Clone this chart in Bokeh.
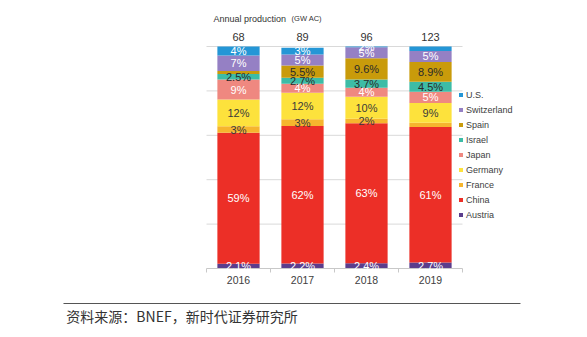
from bokeh.plotting import figure
from bokeh.models import ColumnDataSource, LabelSet, Label, Legend, LegendItem, Range1d
from bokeh.core.properties import field, value
from bokeh.embed import file_html
from bokeh.resources import INLINE

# ---------------- data ----------------
years = [2016, 2017, 2018, 2019]
year_labels = ["2016", "2017", "2018", "2019"]
totals_gw = [68, 89, 96, 123]
grid_ticks = [20, 40, 60, 80, 100]

keys = ["Austria", "China", "France", "Germany", "Japan", "Israel", "Spain", "Switzerland", "US"]
names = ["Austria", "China", "France", "Germany", "Japan", "Israel", "Spain", "Switzerland", "U.S."]

# share of annual production, % (segment sizes)
austria = [2.1, 2.2, 2.4, 2.7]
china = [59, 62, 63, 61]
france = [3, 3, 2, 1.9]
germany = [12, 12, 10, 9]
japan = [9, 4, 4, 5]
israel = [2.5, 2.7, 3.7, 4.5]
spain = [1.4, 5.5, 9.6, 8.9]
switzerland = [7, 5, 5, 5]
us = [4, 3, 0.3, 2]

series = [austria, china, france, germany, japan, israel, spain, switzerland, us]
# labels that the picture shows differently from the segment size, and segments without label
label_overrides = {("US", 2018): "2%"}
unlabeled = {("Spain", 2016), ("France", 2019), ("US", 2019)}

title_text = "Annual production"
unit_text = "(GW AC)"
source_text = "资料来源：BNEF，新时代证券研究所"

colors = ["#5b3d8c", "#ec2f27", "#f6b52e", "#fde23c", "#ef8880",
          "#3dbca6", "#c99b0b", "#9580c4", "#2496d6"]
label_colors = ["#ffffff", "#ffffff", "#3a3a3a", "#3a3a3a", "#ffffff",
                "#2a2a2a", "#2a2a2a", "#ffffff", "#ffffff"]

FONT = "Liberation Sans"

# plot area limits (data units)
X0, X1 = 2015.5, 2019.5

# ---------------- figure (frame = whole canvas) ----------------
p = figure(width=587, height=337,
           x_range=Range1d(2012.28125, 2021.453125), y_range=Range1d(-31.081, 120.72),
           output_backend="svg", toolbar_location=None,
           x_axis_location=None, y_axis_location=None, min_border=0)
p.outline_line_color = None
p.grid.visible = False
p.background_fill_color = "white"
p.border_fill_color = "white"

# gridlines
p.segment(x0=[X0] * len(grid_ticks), x1=[X1] * len(grid_ticks), y0=grid_ticks, y1=grid_ticks,
          line_color="#d9d9d9", line_width=1)

data = {"x": years}
for k, s in zip(keys, series):
    data[k] = s
src = ColumnDataSource(data)
renderers = p.vbar_stack(keys, x="x", width=0.66, fill_color=colors, line_color=None, source=src)

# x axis line + category boundary ticks + labels
bounds = [X0 + i for i in range(len(years) + 1)]
p.segment(x0=[X0], x1=[X1], y0=[0], y1=[0], line_color="#c8c8c8", line_width=1)
p.segment(x0=bounds, x1=bounds, y0=[0] * len(bounds), y1=[-1.8] * len(bounds),
          line_color="#c8c8c8", line_width=1)
ax_src = ColumnDataSource(dict(x=years, y=[-5.4] * len(years), text=year_labels))
p.add_layout(LabelSet(x="x", y="y", text="text", source=ax_src, text_align="center",
                      text_baseline="middle", text_font=value(FONT), text_font_size=value("10.5px"),
                      text_color="#404040"))

# segment labels
lx, ly, lt, lc = [], [], [], []
for i, yr in enumerate(years):
    base = 0.0
    for k, s, c in zip(keys, series, label_colors):
        v = s[i]
        if (k, yr) not in unlabeled:
            lx.append(yr)
            ly.append(base + v / 2)
            lt.append(label_overrides.get((k, yr), f"{v:g}%"))
            lc.append(c)
        base += v
lab_src = ColumnDataSource(dict(x=lx, y=ly, text=lt, color=lc))
p.add_layout(LabelSet(x="x", y="y", text="text", source=lab_src, text_align="center",
                      text_baseline="middle", text_font=value(FONT), text_font_size=value("11px"),
                      text_color=field("color")))

# totals above bars
tot_src = ColumnDataSource(dict(x=years, y=[104.3] * len(years), text=[str(t) for t in totals_gw]))
p.add_layout(LabelSet(x="x", y="y", text="text", source=tot_src, text_align="center",
                      text_baseline="middle", text_font=value(FONT), text_font_size=value("11px"),
                      text_color="#333333"))

# title
p.add_layout(Label(x=2015.61, y=112.6, text=title_text, text_align="left",
                   text_baseline="middle", text_font=FONT, text_font_size="9px",
                   text_color="#333333"))
p.add_layout(Label(x=2016.83, y=112.6, text=unit_text, text_align="left",
                   text_baseline="middle", text_font=FONT, text_font_size="7.5px",
                   text_color="#333333"))

# legend
items = [LegendItem(label=n, renderers=[r]) for n, r in zip(names, renderers)][::-1]
legend = Legend(items=items, location=(458, 117), glyph_width=5, glyph_height=5,
                label_standoff=3, label_text_font=FONT, label_text_font_size="9px",
                label_text_color="#404040", label_height=11, spacing=4, padding=0, margin=0,
                border_line_color=None, background_fill_alpha=0)
p.add_layout(legend)

# source line and text
p.segment(x0=[2013.2656], x1=[2020.406], y0=[-15.77], y1=[-15.77], line_color="#555555", line_width=1)
p.add_layout(Label(x=2013.31, y=-21.6, text=source_text, text_align="left",
                   text_baseline="middle", text_font="Noto Sans CJK SC", text_font_size="14px",
                   text_color="#333333"))

open("out.html", "w").write(file_html(p, INLINE))
